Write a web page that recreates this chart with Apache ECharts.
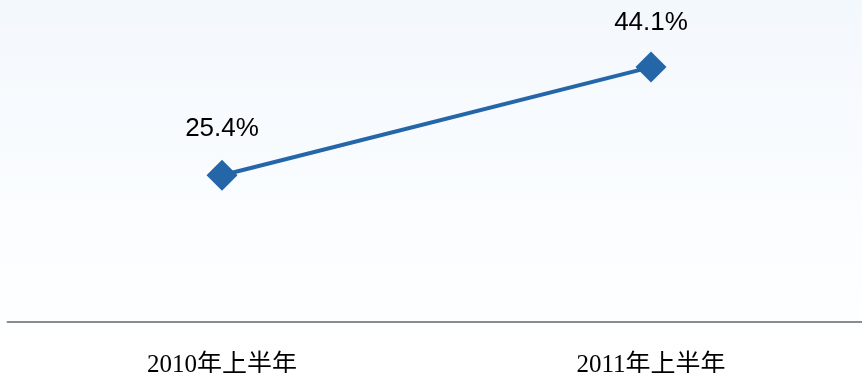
<!DOCTYPE html>
<html><head><meta charset="utf-8">
<script src="https://cdn.jsdelivr.net/npm/echarts@6/dist/echarts.min.js"></script>
<style>html,body{margin:0;padding:0;background:#fff;overflow:hidden}#c{width:862px;height:373px}</style>
</head><body><div id="c"></div>
<script>
const categories = ['2010年上半年', '2011年上半年'];
const values = [25.4, 44.1];
const valueLabels = ['25.4%', '44.1%'];

const chart = echarts.init(document.getElementById('c'), null, {renderer: 'canvas'});
chart.setOption({
  backgroundColor: {
    type: 'linear', x: 0, y: 0, x2: 0, y2: 1,
    colorStops: [{offset: 0, color: '#f3f8fd'}, {offset: 0.6, color: '#fbfdff'}, {offset: 1, color: '#ffffff'}]
  },
  animation: false,
  grid: {left: 7.5, width: 858, top: 33, bottom: 51, outerBoundsMode: 'none', containLabel: false},
  xAxis: {
    type: 'category', data: categories, boundaryGap: true,
    axisLine: {lineStyle: {color: '#8c8c8c', width: 2}},
    axisTick: {show: false},
    axisLabel: {color: '#000', fontSize: 25, fontFamily: '"Liberation Serif", "Noto Sans CJK SC", serif', margin: 31}
  },
  yAxis: {type: 'value', min: 0, max: 50, show: false, splitLine: {show: false}},
  series: [{
    type: 'line',
    data: values.map((v, i) => ({value: v, label: {formatter: valueLabels[i], distance: i === 0 ? 18 : 16}})),
    symbol: 'diamond', symbolSize: [31, 31],
    lineStyle: {color: '#2566a8', width: 4},
    itemStyle: {color: '#2566a8'},
    label: {show: true, position: 'top', color: '#000', fontSize: 26, fontFamily: '"Liberation Sans", Arial, sans-serif'}
  }]
});
</script></body></html>
